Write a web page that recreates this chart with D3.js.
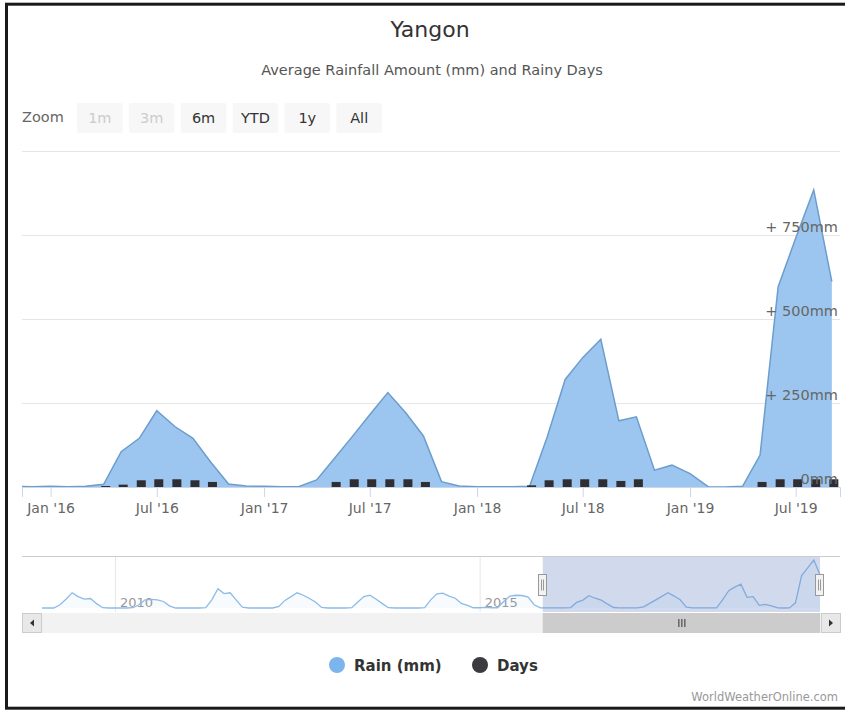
<!DOCTYPE html>
<html lang="en">
<head>
<meta charset="UTF-8">
<title>Yangon - Average Rainfall Amount and Rainy Days</title>
<script src="https://d3js.org/d3.v7.min.js"></script>
<style>
  body { margin: 0; background: #fff; }
  svg text { font-family: "DejaVu Sans", Verdana, sans-serif; }
</style>
</head>
<body>
<svg id="chart" width="845" height="713"></svg>
<script>
// monthly rainfall in mm (value on the 1st of each month), 2019 stops in September
const rain2009 = [0, 0, 0, 60, 160, 280, 210, 165, 175, 80, 5, 0];
const rain2010 = [0, 0, 0, 5, 60, 150, 160, 150, 120, 40, 0, 0];
const rain2011 = [0, 0, 0, 5, 150, 355, 265, 280, 145, 15, 0, 0];
const rain2012 = [0, 0, 0, 30, 140, 210, 280, 235, 175, 110, 10, 0];
const rain2013 = [0, 0, 0, 5, 110, 210, 235, 160, 80, 5, 0, 0];
const rain2014 = [0, 0, 0, 5, 150, 260, 275, 220, 180, 85, 50, 5];
const rain2015 = [5, 10, 5, 5, 120, 220, 235, 230, 200, 60, 2, 1];
const rain2016 = [2, 1, 2, 8, 105, 145, 227, 180, 145, 75, 9, 3];
const rain2017 = [2, 1, 1, 21, 84, 150, 215, 281, 220, 152, 16, 3];
const rain2018 = [1, 1, 1, 2, 148, 320, 385, 440, 197, 209, 50, 65];
const rain2019 = [40, 1, 0, 2, 95, 596, 740, 884, 611];
const rainYears = [2009, 2010, 2011, 2012, 2013, 2014, 2015, 2016, 2017, 2018, 2019];
const rainRows = [rain2009, rain2010, rain2011, rain2012, rain2013, rain2014, rain2015,
                  rain2016, rain2017, rain2018, rain2019];

// rainy days per month, 2016 - Sep 2019
const days2016 = [0, 0, 0, 3, 7, 20, 23, 23, 20, 15, 0, 0];
const days2017 = [0, 0, 0, 0, 15, 23, 23, 23, 23, 15, 0, 0];
const days2018 = [0, 0, 0, 5, 20, 23, 23, 23, 18, 23, 0, 0];
const days2019 = [0, 0, 0, 0, 15, 23, 23, 23, 23];
const dayYears = [2016, 2017, 2018, 2019];
const dayRows = [days2016, days2017, days2018, days2019];

const yTicks = [0, 250, 500, 750, 1000];
const zoomButtons = ["1m", "3m", "6m", "YTD", "1y", "All"];
const disabledButtons = ["1m", "3m"];
const legendItems = ["Rain (mm)", "Days"];
const legendColors = ["#7cb5ec", "#3b3b40"];

const rain = [];
rainRows.forEach((row, i) => row.forEach((v, m) => rain.push({ date: new Date(rainYears[i], m, 1), value: v })));
const days = [];
dayRows.forEach((row, i) => row.forEach((v, m) => days.push({ date: new Date(dayYears[i], m, 1), value: v })));

const svg = d3.select("#chart");

// outer frame
svg.append("rect")
    .attr("x", 6.5).attr("y", 4.2).attr("width", 870).attr("height", 704)
    .attr("fill", "none").attr("stroke", "#1a1a1a").attr("stroke-width", 3);

// titles
svg.append("text").attr("x", 430).attr("y", 37).attr("text-anchor", "middle")
    .attr("font-size", 22).attr("fill", "#333").text("Yangon");
svg.append("text").attr("x", 432).attr("y", 75).attr("text-anchor", "middle")
    .attr("font-size", 14.5).attr("fill", "#555").text("Average Rainfall Amount (mm) and Rainy Days");

// range selector
svg.append("text").attr("x", 22).attr("y", 122).attr("font-size", 14.5).attr("fill", "#666").text("Zoom");
const bx = d3.scaleBand().domain(zoomButtons).range([77, 382]).paddingInner(0.12);
const btn = svg.append("g").selectAll("g").data(zoomButtons).enter().append("g")
    .attr("transform", d => `translate(${bx(d)},103)`);
btn.append("rect").attr("width", bx.bandwidth()).attr("height", 30).attr("rx", 2).attr("fill", "#f7f7f7");
btn.append("text").attr("x", bx.bandwidth() / 2).attr("y", 19.5).attr("text-anchor", "middle")
    .attr("font-size", 14.5)
    .attr("fill", d => disabledButtons.includes(d) ? "#cccccc" : "#333")
    .text(d => d);

// main plot
const plot = { left: 22, right: 840, top: 151, bottom: 487 };
const x = d3.scaleTime().domain([new Date(2015, 10, 13), new Date(2019, 8, 15)]).range([plot.left, plot.right]);
const y = d3.scaleLinear().domain([0, 1000]).range([plot.bottom, plot.top]);

svg.append("clipPath").attr("id", "clip").append("rect")
    .attr("x", plot.left).attr("y", plot.top - 5)
    .attr("width", plot.right - plot.left).attr("height", plot.bottom - plot.top + 5);

svg.append("g").selectAll("line").data(yTicks).enter().append("line")
    .attr("x1", plot.left).attr("x2", plot.right)
    .attr("y1", d => y(d) + 0.5).attr("y2", d => y(d) + 0.5)
    .attr("stroke", "#e6e6e6");

const area = d3.area().x(d => x(d.date)).y0(y(0)).y1(d => y(d.value));
const line = d3.line().x(d => x(d.date)).y(d => y(d.value));
const main = svg.append("g").attr("clip-path", "url(#clip)");
main.append("path").datum(rain).attr("d", area).attr("fill", "#9cc6ef");
main.append("path").datum(rain).attr("d", line).attr("fill", "none")
    .attr("stroke", "#6c9dcc").attr("stroke-width", 1.5);

// x axis
const xAxis = d3.axisBottom(x)
    .tickValues(d3.timeMonth.every(6).range(x.domain()[0], x.domain()[1]))
    .tickFormat(d3.timeFormat("%b '%y"))
    .tickSize(10).tickPadding(6);
const gx = svg.append("g").attr("transform", `translate(0,${plot.bottom})`).call(xAxis);
gx.select(".domain").attr("stroke", "#ccd6eb");
gx.selectAll(".tick line").attr("stroke", "#ccd6eb");
gx.selectAll(".tick text").attr("font-size", 14).attr("fill", "#666");

// y labels, inside the plot on the right
svg.append("g").selectAll("text").data(yTicks.slice(0, -1)).enter().append("text")
    .attr("x", 838).attr("y", d => y(d) - 3).attr("text-anchor", "end")
    .attr("font-size", 14.5).attr("fill", "#666")
    .text(d => d === 0 ? "0mm" : `+ ${d}mm`);

// rainy days columns
main.append("g").selectAll("rect").data(days.filter(d => d.value > 0)).enter().append("rect")
    .attr("x", d => x(d.date) - 2.5).attr("width", 9)
    .attr("y", d => y(d.value)).attr("height", d => y(0) - y(d.value))
    .attr("fill", "#2e2e33");

// navigator
const nav = { left: 42, right: 820, top: 556, bottom: 612 };
const nx = d3.scaleTime().domain(d3.extent(rain, d => d.date)).range([nav.left, nav.right]);
const ny = d3.scaleLinear().domain([0, d3.max(rain, d => d.value)]).range([608, 560]);

const navYears = d3.timeYear.every(5).range(nx.domain()[0], nx.domain()[1]);
svg.append("g").selectAll("line").data(navYears).enter().append("line")
    .attr("x1", d => nx(d) + 0.5).attr("x2", d => nx(d) + 0.5)
    .attr("y1", nav.top).attr("y2", nav.bottom).attr("stroke", "#e6e6e6");
svg.append("g").selectAll("text").data(navYears).enter().append("text")
    .attr("x", d => nx(d) + 5).attr("y", 607).attr("font-size", 13).attr("fill", "#999")
    .text(d3.timeFormat("%Y"));

svg.append("path").datum(rain)
    .attr("d", d3.area().x(d => nx(d.date)).y0(ny(0)).y1(d => ny(d.value)))
    .attr("fill", "#7cb5ec").attr("fill-opacity", 0.06);
svg.append("path").datum(rain)
    .attr("d", d3.line().x(d => nx(d.date)).y(d => ny(d.value)))
    .attr("fill", "none").attr("stroke", "#8dbbe6").attr("stroke-width", 1.3);

const m0 = Math.max(nx(x.domain()[0]), nav.left);
const m1 = Math.min(nx(x.domain()[1]), nav.right);
svg.append("rect").attr("x", m0).attr("y", nav.top).attr("width", m1 - m0).attr("height", nav.bottom - nav.top)
    .attr("fill", "rgba(102,133,194,0.3)");
svg.append("line").attr("x1", plot.left).attr("x2", plot.right).attr("y1", nav.top + 0.5).attr("y2", nav.top + 0.5)
    .attr("stroke", "#cccccc");

const handles = svg.append("g").selectAll("g").data([m0, m1]).enter().append("g")
    .attr("transform", d => `translate(${Math.round(d) - 4.5},574.5)`);
handles.append("rect").attr("width", 8).attr("height", 21).attr("fill", "#f2f2f2").attr("stroke", "#999");
handles.append("line").attr("x1", 3).attr("x2", 3).attr("y1", 5).attr("y2", 16).attr("stroke", "#999");
handles.append("line").attr("x1", 5).attr("x2", 5).attr("y1", 5).attr("y2", 16).attr("stroke", "#999");

// scrollbar
svg.append("rect").attr("x", plot.left).attr("y", 613).attr("width", plot.right - plot.left).attr("height", 20)
    .attr("fill", "#f2f2f2");
svg.append("rect").attr("x", m0).attr("y", 613).attr("width", m1 - m0).attr("height", 20).attr("fill", "#cccccc");
const rc = (m0 + m1) / 2;
svg.append("g").selectAll("line").data([-3, 0, 3]).enter().append("line")
    .attr("x1", d => rc + d + 0.5).attr("x2", d => rc + d + 0.5).attr("y1", 619).attr("y2", 627)
    .attr("stroke", "#333");
const sb = svg.append("g").selectAll("g").data([[plot.left, -1], [nav.right + 1, 1]]).enter().append("g")
    .attr("transform", d => `translate(${d[0]},613)`);
sb.append("rect").attr("x", 0.5).attr("y", 0.5).attr("width", 19).attr("height", 19)
    .attr("fill", "#e8e8e8").attr("stroke", "#cccccc");
sb.append("path").attr("d", d => d[1] < 0 ? "M12,6.5 L8,10 L12,13.5 Z" : "M8,6.5 L12,10 L8,13.5 Z")
    .attr("fill", "#333");

// legend
const leg = svg.append("g").selectAll("g").data(legendItems).enter().append("g")
    .attr("transform", (d, i) => `translate(${i === 0 ? 337 : 480},665)`);
leg.append("circle").attr("r", 8).attr("fill", (d, i) => legendColors[i]);
leg.append("text").attr("x", 17).attr("y", 5.5).attr("font-size", 15).attr("font-weight", "bold")
    .attr("fill", "#333").text(d => d);

svg.append("text").attr("x", 838).attr("y", 701).attr("text-anchor", "end")
    .attr("font-size", 11.5).attr("fill", "#999").text("WorldWeatherOnline.com");
</script>
</body>
</html>
